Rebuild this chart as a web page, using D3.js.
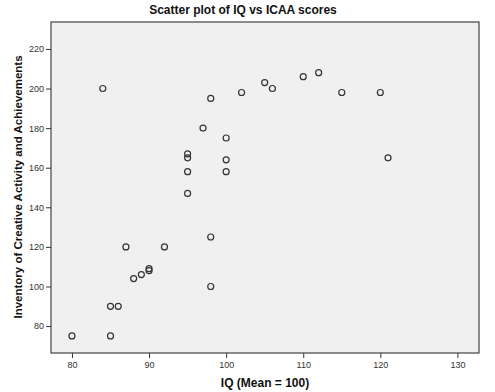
<!DOCTYPE html>
<html>
<head>
<meta charset="utf-8">
<script src="https://cdn.jsdelivr.net/npm/d3@7"></script>
<style>
  html, body { margin: 0; padding: 0; background: #ffffff; }
  svg { display: block; }
  text { font-family: Arial, "Liberation Sans", sans-serif; }
</style>
</head>
<body>
<svg id="chart" width="495" height="392"></svg>
<script>
const titleText = "Scatter plot of IQ vs ICAA scores";
const xLabel = "IQ (Mean = 100)";
const yLabel = "Inventory of Creative Activity and Achievements";
const iqValues   = [80, 85, 85, 86, 87, 88, 89, 90, 90, 92, 84, 95, 95, 95, 95, 97, 98, 98, 98, 100, 100, 100, 102, 105, 106, 110, 112, 115, 120, 121];
const icaaValues = [75, 75, 90, 90, 120, 104, 106, 108, 109, 120, 200, 147, 158, 165, 167, 180, 195, 125, 100, 175, 164, 158, 198, 203, 200, 206, 208, 198, 198, 165];
const xTicks = [80, 90, 100, 110, 120, 130];
const yTicks = [80, 100, 120, 140, 160, 180, 200, 220];

const svg = d3.select("#chart");
const frame = { left: 51, right: 479, top: 22, bottom: 353 };

const x = d3.scaleLinear().domain([77.28, 132.8]).range([frame.left, frame.right]);
const y = d3.scaleLinear().domain([66.4, 233.6]).range([frame.bottom, frame.top]);

svg.append("rect")
  .attr("x", frame.left).attr("y", frame.top)
  .attr("width", frame.right - frame.left).attr("height", frame.bottom - frame.top)
  .attr("fill", "#f0f0f0").attr("stroke", "#444").attr("stroke-width", 1.2);

const xAxis = svg.append("g")
  .attr("transform", `translate(0,${frame.bottom})`)
  .call(d3.axisBottom(x).tickValues(xTicks).tickSize(5).tickSizeOuter(0).tickPadding(4));
const yAxis = svg.append("g")
  .attr("transform", `translate(${frame.left},0)`)
  .call(d3.axisLeft(y).tickValues(yTicks).tickSize(5).tickSizeOuter(0).tickPadding(2));

[xAxis, yAxis].forEach(g => {
  g.select(".domain").remove();
  g.selectAll(".tick line").attr("stroke", "#333").attr("stroke-width", 1);
  g.selectAll(".tick text").attr("fill", "#333").style("font-size", "9px")
    .style("font-family", "Arial, 'Liberation Sans', sans-serif");
});

svg.append("g").selectAll("circle")
  .data(iqValues.map((v, i) => [v, icaaValues[i]]))
  .join("circle")
  .attr("cx", d => x(d[0]))
  .attr("cy", d => y(d[1]))
  .attr("r", 3)
  .attr("fill", "none")
  .attr("stroke", "#333")
  .attr("stroke-width", 1.2);

svg.append("text")
  .attr("x", 243).attr("y", 14)
  .attr("text-anchor", "middle")
  .style("font-size", "12px").style("font-weight", "bold")
  .attr("fill", "#111")
  .text(titleText);

svg.append("text")
  .attr("x", 265).attr("y", 387)
  .attr("text-anchor", "middle")
  .style("font-size", "12px").style("font-weight", "bold")
  .attr("fill", "#111")
  .text(xLabel);

svg.append("text")
  .attr("transform", `translate(22,187) rotate(-90)`)
  .attr("text-anchor", "middle")
  .style("font-size", "11.5px").style("font-weight", "bold")
  .attr("fill", "#111")
  .text(yLabel);
</script>
</body>
</html>
